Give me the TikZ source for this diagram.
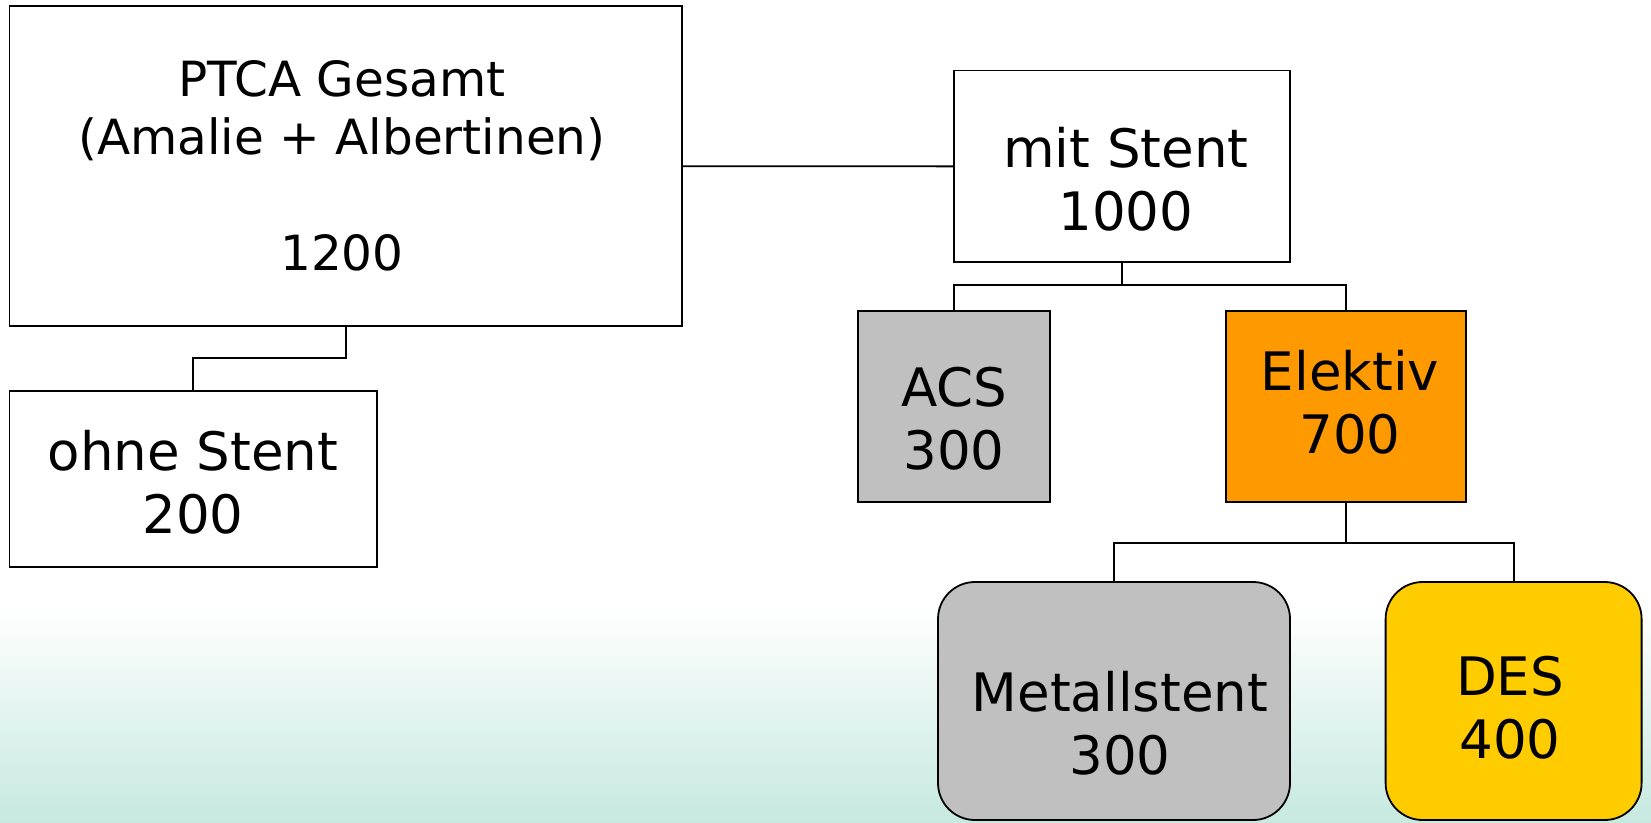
\documentclass[tikz,border=0pt]{standalone}
\usepackage{fontspec}
\setmainfont{DejaVu Sans}
\definecolor{mint}{RGB}{198,233,224}
\definecolor{acsgray}{RGB}{192,192,192}
\definecolor{elekorange}{RGB}{255,153,0}
\definecolor{desyellow}{RGB}{255,204,0}
\begin{document}
\begin{tikzpicture}[x=1pt, y=-1pt,
    box/.style={draw, line width=1.8pt, inner sep=0pt, outer sep=0pt, anchor=north west},
    big/.style={font=\fontsize{53}{63}\selectfont, align=center, anchor=base, inner sep=0pt},
    small/.style={font=\fontsize{48.5}{58}\selectfont, align=center, anchor=base, inner sep=0pt},
    link/.style={line width=1.8pt}]
    \useasboundingbox (0, 0) rectangle (1651, 822);

    % Background
    \shade[top color=white, bottom color=mint] (0, 608) rectangle (1651, 822);

    % PTCA total
    \node[box, minimum width=672.5, minimum height=320] (ptca) at (9.5, 6.3) {};
    \node[small] (ptca-t) at (342, 270.8) {PTCA Gesamt\\(Amalie + Albertinen)\\[58pt]1200};

    % Without stent
    \node[box, minimum width=367.5, minimum height=176] (ohne) at (9.5, 390.6) {};
    \node[big] (ohne-t) at (193, 533.8) {ohne Stent\\200};

    % With stent
    \node[box, minimum width=336, minimum height=191.7] (mit) at (954, 70.5) {};
    \node[big] (mit-t) at (1126, 230.6) {mit Stent\\1000};

    % ACS
    \node[box, fill=acsgray, minimum width=192, minimum height=191.4] (acs) at (858, 310.6) {};
    \node[big] (acs-t) at (954, 469.6) {ACS\\300};

    % Elective
    \node[box, fill=elekorange, minimum width=240, minimum height=191.4] (elek) at (1225.6, 310.6) {};
    \node[big] (elek-t) at (1350, 453.8) {Elektiv\\700};

    % Bare metal stent
    \node[box, fill=acsgray, rounded corners=37, minimum width=352, minimum height=238] (metall) at (938, 582) {};
    \node[big] (metall-t) at (1120, 774) {Metallstent\\300};

    % DES
    \node[box, fill=desyellow, rounded corners=37, minimum width=256, minimum height=238] (des) at (1385.6, 582) {};
    \node[big] (des-t) at (1510, 758) {DES\\400};

    % Connectors
    \draw[link] (ptca.east) -- (mit.west);
    \draw[link] (ptca.south) -- ++(0, 32) -| (ohne.north);
    \draw[link] (mit.south) -- ++(0, 23) coordinate (mitfork);
    \draw[link] (acs.north) |- (mitfork) -| (elek.north);
    \draw[link] (elek.south) -- ++(0, 41) coordinate (elekfork);
    \draw[link] (metall.north) |- (elekfork) -| (des.north);
\end{tikzpicture}
\end{document}
